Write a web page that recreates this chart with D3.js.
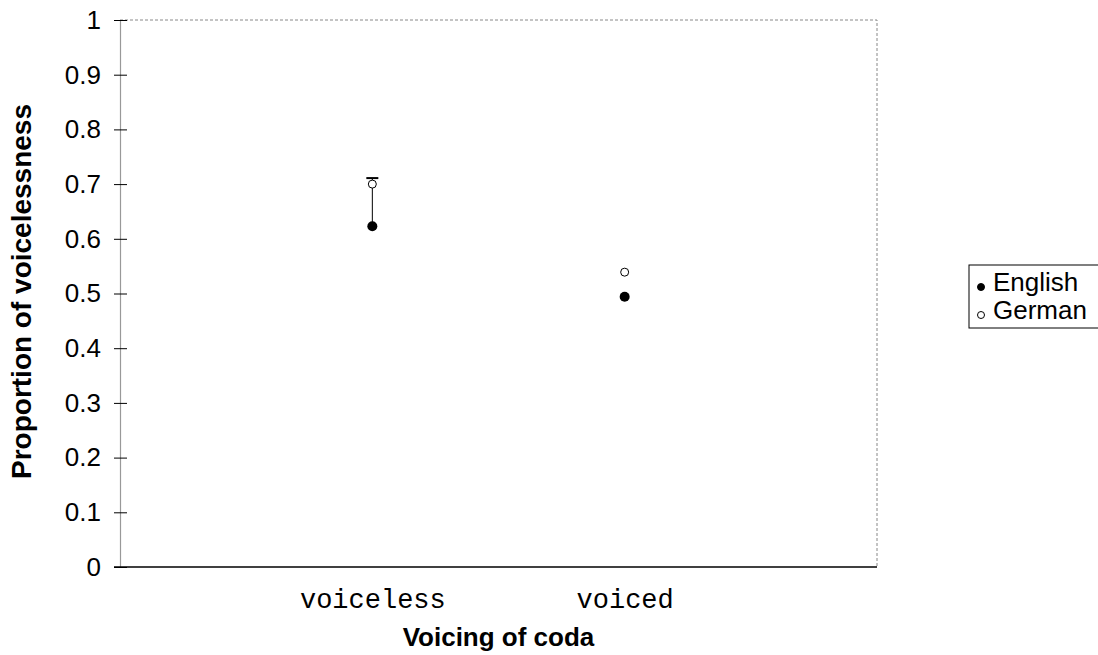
<!DOCTYPE html>
<html>
<head>
<meta charset="utf-8">
<script src="https://cdn.jsdelivr.net/npm/d3@7"></script>
<style>
  body { margin: 0; background: #fff; }
  text { font-family: "Liberation Sans", Arial, sans-serif; fill: #000; }
  .xtick text { font-family: "Liberation Mono", "Courier New", monospace; }
</style>
</head>
<body>
<svg width="1098" height="655"></svg>
<script>
const categories = ['voiceless', 'voiced'];
const english = [0.623, 0.494];
const german = [0.700, 0.539];
const errLow = [0.623, null];   // bar from English point ...
const errHigh = [0.711, null];  // ... up to the cap
const yTicks = [0, 0.1, 0.2, 0.3, 0.4, 0.5, 0.6, 0.7, 0.8, 0.9, 1];

const svg = d3.select('svg');
const margin = { top: 20, right: 221, bottom: 88, left: 120 };
const width = +svg.attr('width');
const height = +svg.attr('height');
const innerWidth = width - margin.left - margin.right;
const innerHeight = height - margin.top - margin.bottom;

const g = svg.append('g')
  .attr('transform', `translate(${margin.left},${margin.top})`);

const xScale = d3.scalePoint()
  .domain(categories)
  .range([0, innerWidth])
  .padding(1);

const yScale = d3.scaleLinear()
  .domain([0, 1])
  .range([innerHeight, 0]);

// dashed frame top / right
g.append('path')
  .attr('d', `M0,0H${innerWidth}V${innerHeight}`)
  .attr('fill', 'none')
  .attr('stroke', '#888')
  .attr('stroke-dasharray', '3,2');

// y axis
const yAxis = d3.axisLeft(yScale)
  .tickValues(yTicks)
  .tickFormat(d => d3.format('')(d))
  .tickSize(0)
  .tickPadding(19);

const yAxisG = g.append('g').call(yAxis);
yAxisG.select('.domain').attr('stroke', '#999').attr('stroke-width', 1.2);
yAxisG.selectAll('.tick text').attr('font-size', 26);
yAxisG.selectAll('.tick').append('line')
  .attr('x1', -6).attr('x2', 7)
  .attr('stroke', '#000');

// x axis
const xAxis = d3.axisBottom(xScale).tickSize(0).tickPadding(22);
const xAxisG = g.append('g')
  .attr('class', 'xtick')
  .attr('transform', `translate(0,${innerHeight})`)
  .call(xAxis);
xAxisG.select('.domain').attr('d', `M-6,0H${innerWidth}`).attr('stroke', '#000').attr('stroke-width', 1.5);
xAxisG.selectAll('.tick text').attr('font-size', 27);

// error bar
categories.forEach((c, i) => {
  if (errHigh[i] == null) return;
  const x = xScale(c);
  g.append('line')
    .attr('x1', x).attr('x2', x)
    .attr('y1', yScale(errLow[i])).attr('y2', yScale(errHigh[i]))
    .attr('stroke', '#000');
  g.append('line')
    .attr('x1', x - 6).attr('x2', x + 6)
    .attr('y1', yScale(errHigh[i])).attr('y2', yScale(errHigh[i]))
    .attr('stroke', '#000').attr('stroke-width', 2);
});

g.selectAll('circle.en').data(english)
  .enter().append('circle')
    .attr('class', 'en')
    .attr('cx', (d, i) => xScale(categories[i]))
    .attr('cy', d => yScale(d))
    .attr('r', 5)
    .attr('fill', '#000');

g.selectAll('circle.de').data(german)
  .enter().append('circle')
    .attr('class', 'de')
    .attr('cx', (d, i) => xScale(categories[i]))
    .attr('cy', d => yScale(d))
    .attr('r', 4)
    .attr('fill', '#fff')
    .attr('stroke', '#000')
    .attr('stroke-width', 1);

// axis titles
g.append('text')
  .attr('x', innerWidth / 2)
  .attr('y', innerHeight + 79)
  .attr('text-anchor', 'middle')
  .attr('font-size', 26)
  .attr('font-weight', 'bold')
  .text('Voicing of coda');

svg.append('text')
  .attr('transform', `translate(31,${margin.top + innerHeight / 2 - 2}) rotate(-90)`)
  .attr('text-anchor', 'middle')
  .attr('font-size', 28)
  .attr('font-weight', 'bold')
  .text('Proportion of voicelessness');

// legend
const legend = svg.append('g').attr('transform', 'translate(969,265)');
legend.append('rect')
  .attr('width', 140).attr('height', 63)
  .attr('fill', '#fff').attr('stroke', '#000');
const legendItems = [
  { name: 'English', fill: '#000' },
  { name: 'German', fill: '#fff' }
];
legendItems.forEach((d, i) => {
  legend.append('circle')
    .attr('cx', 12).attr('cy', 22 + i * 28)
    .attr('r', 3.5)
    .attr('fill', d.fill).attr('stroke', '#000');
  legend.append('text')
    .attr('x', 24).attr('y', 26 + i * 28)
    .attr('font-size', 26)
    .text(d.name);
});
</script>
</body>
</html>
